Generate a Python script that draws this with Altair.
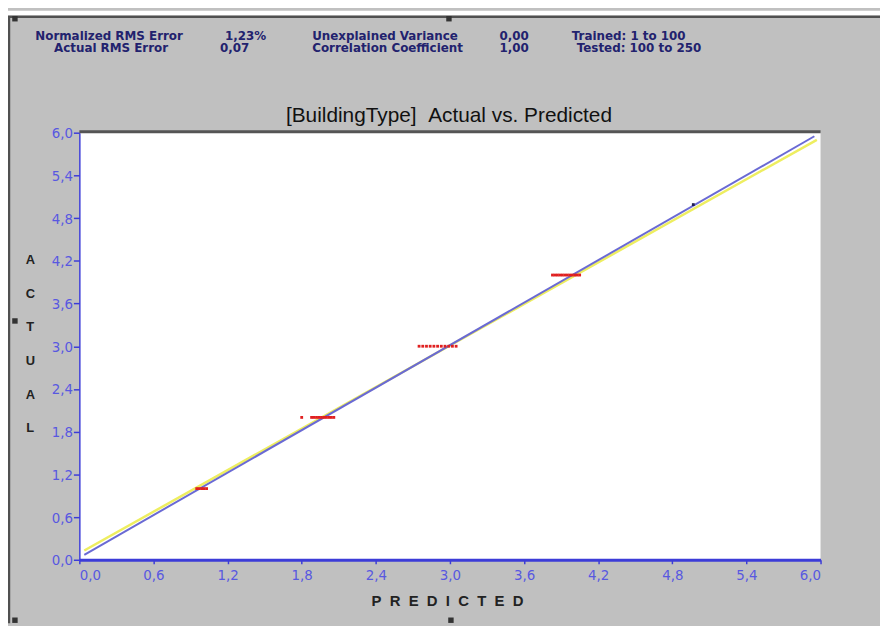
import altair as alt
import pandas as pd

# ---- data ----
tick_values = [0.0, 0.6, 1.2, 1.8, 2.4, 3.0, 3.6, 4.2, 4.8, 5.4, 6.0]

pred_at_1 = [0.95, 0.97, 0.99, 1.01, 1.03]
pred_at_2 = [1.80, 1.88, 1.90, 1.92, 1.94, 1.96, 1.98, 2.00, 2.02, 2.04, 2.06]
pred_at_3 = [2.75, 2.78, 2.81, 2.84, 2.87, 2.90, 2.93, 2.96, 2.99, 3.02, 3.05]
pred_at_4 = [3.83, 3.85, 3.87, 3.89, 3.91, 3.93, 3.95, 3.97, 3.99, 4.01, 4.03, 4.05]
actual_levels = [1.0, 2.0, 3.0, 4.0]

dark_pred = [4.97]
dark_actual = [4.99]

ideal_pred = [0.04, 5.95]
ideal_actual = [0.07, 5.95]
fit_pred = [0.04, 5.97]
fit_actual = [0.13, 5.90]

NB = "\u00a0"
header_rows = [
    ("Normalized RMS Error", "1,23%", "Unexplained Variance", "0,00", "Trained: 1 to 100"),
    ("Actual RMS Error", "0,07", "Correlation Coefficient", "1,00", "Tested: 100 to 250"),
]
title_text = "[BuildingType]" + NB + NB + "Actual vs. Predicted"
x_title = (NB * 2).join(list("PREDICTED"))
y_title = ["A", "C", "T", "U", "A", "L"]

# ---- tables ----
rows = []
for lvl, preds in zip(actual_levels, [pred_at_1, pred_at_2, pred_at_3, pred_at_4]):
    for p in preds:
        rows.append({"pred": p, "actual": lvl})
pts = pd.DataFrame(rows)
dark = pd.DataFrame({"pred": dark_pred, "actual": dark_actual})
ideal = pd.DataFrame({"pred": ideal_pred, "actual": ideal_actual})
fit = pd.DataFrame({"pred": fit_pred, "actual": fit_actual})

W, H = 748, 431
BLUE = "#3c3cd8"
LBL = "#5858e0"
NARROW = "Liberation Sans Narrow, DejaVu Sans Condensed, Liberation Sans, sans-serif"
lab_expr = "replace(format(datum.value, '.1f'), '.', ',')"

xs = alt.Scale(domain=[0, 6], nice=False, zero=False)
ys = alt.Scale(domain=[0, 6], nice=False, zero=False)

x_axis = alt.Axis(values=tick_values, labelExpr=lab_expr, grid=False,
                  domainColor=BLUE, domainWidth=3, tickColor=BLUE, tickWidth=1.5,
                  tickSize=4, labelColor=LBL, labelFont=NARROW, labelFontSize=15,
                  labelPadding=4, title=x_title, titleFont="Liberation Sans",
                  titleFontWeight="bold", titleFontSize=15, titleColor="#222222",
                  titleBaseline="middle", titleY=41, titleX=371)
y_axis = alt.Axis(values=tick_values, labelExpr=lab_expr, grid=False,
                  domainColor=BLUE, domainWidth=1.5, tickColor=BLUE, tickWidth=1.5,
                  tickSize=6, labelColor=LBL, labelFont=NARROW, labelFontSize=15,
                  labelPadding=1, title=y_title, titleAngle=0, titleAlign="center",
                  titleBaseline="middle", titleX=-50, titleY=128, titleLineHeight=34,
                  titleFont="Liberation Sans", titleFontWeight="bold",
                  titleFontSize=13, titleColor="#222222")

base_x = alt.X("pred:Q", scale=xs, axis=x_axis)
base_y = alt.Y("actual:Q", scale=ys, axis=y_axis)

fit_line = alt.Chart(fit).mark_line(color="#eeee60", strokeWidth=2.5).encode(x=base_x, y=base_y)
ideal_line = alt.Chart(ideal).mark_line(color="#6a6ad4", strokeWidth=2).encode(x=base_x, y=base_y)
red_pts = alt.Chart(pts).mark_square(color="#e02020", size=8, opacity=1).encode(x=base_x, y=base_y)
dark_pts = alt.Chart(dark).mark_square(color="#202050", size=8, opacity=1).encode(x=base_x, y=base_y)

one = pd.DataFrame({"k": [0]})

top_border = alt.Chart(one).mark_rule(color="#555555", strokeWidth=3).encode(
    x=alt.value(0), x2=alt.value(W), y=alt.value(-1))

# window frame decoration
white_strip = alt.Chart(one).mark_rect(color="white").encode(
    x=alt.value(-72), x2=alt.value(808), y=alt.value(-123), y2=alt.value(-118))
frame_top = alt.Chart(one).mark_rule(color="#505050", strokeWidth=2.5).encode(
    x=alt.value(-72), x2=alt.value(808), y=alt.value(-117))
frame_left = alt.Chart(one).mark_rule(color="#505050", strokeWidth=2.5).encode(
    x=alt.value(-71), y=alt.value(-117), y2=alt.value(495))
handles = [(-65, -115), (373, -115), (-65, 190), (375, 492), (-65, 492)]
handle_layers = [
    alt.Chart(one).mark_square(color="#333333", size=30, opacity=1).encode(
        x=alt.value(hx), y=alt.value(hy))
    for hx, hy in handles
]


def label(s, x, y, align):
    return alt.Chart(one).mark_text(
        align=align, baseline="middle", font="DejaVu Sans", fontWeight="bold",
        fontSize=12, color="#22226e").encode(
        x=alt.value(x), y=alt.value(y), text=alt.value(s))


hdr = []
col_x = [(30, "center"), (147, "left"), (235, "left"), (424, "left"), (497, "left")]
row_y = [-98, -85.5]
for r, row in enumerate(header_rows):
    for c, s in enumerate(row):
        x, a = col_x[c]
        if r == 1 and c == 0:
            x = 32
        if r == 1 and c == 1:
            x = 142
        if r == 1 and c == 4:
            x = 502
        hdr.append(label(s, x, row_y[r], a))

title = alt.Chart(one).mark_text(
    align="center", baseline="middle", font="Liberation Sans", fontSize=21,
    color="#111111").encode(x=alt.value(373), y=alt.value(-17), text=alt.value(title_text))

chart = alt.layer(
    white_strip, frame_top, frame_left, *handle_layers, *hdr, title,
    fit_line, ideal_line, red_pts, dark_pts, top_border,
).properties(
    width=W, height=H,
    autosize=alt.AutoSizeParams(type="none"),
    padding={"left": 72, "top": 123, "right": 60, "bottom": 64},
).configure(background="#c0c0c0").configure_view(fill="white", stroke=None)

chart.save("out.html", embed_options={"renderer": "svg", "actions": False})
